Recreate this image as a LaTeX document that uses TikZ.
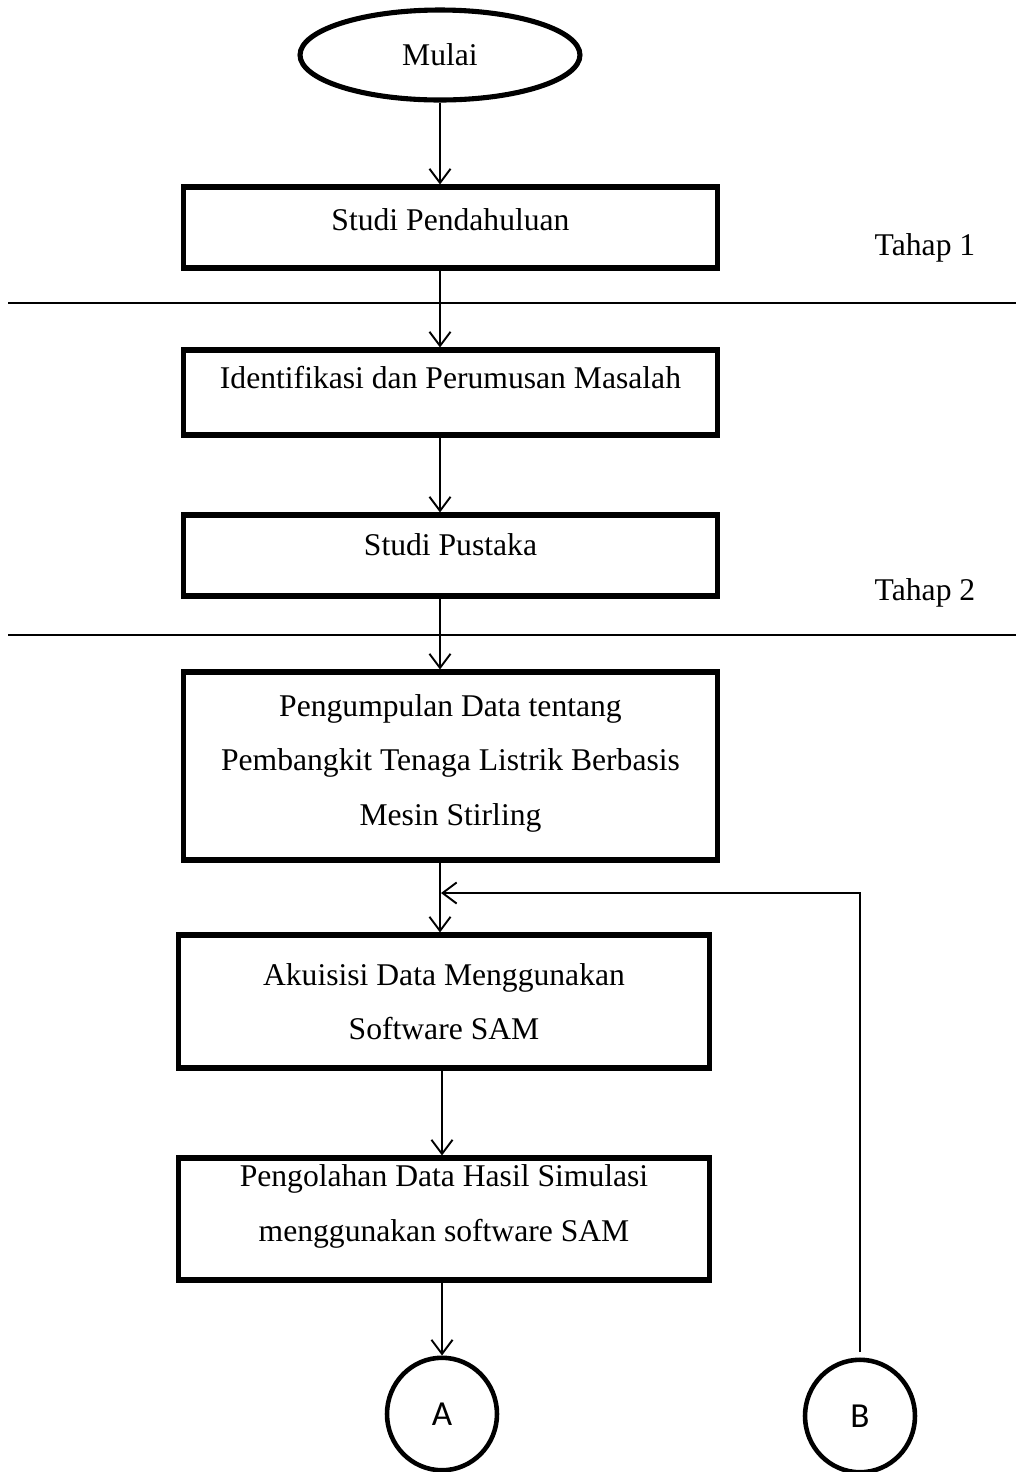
\documentclass[tikz,border=0pt]{standalone}
\usepackage{fontspec}
\setmainfont{Liberation Serif}
\newfontfamily\calibrifont{Carlito}
\usetikzlibrary{arrows.meta,shapes.geometric}

\begin{document}
\begin{tikzpicture}[x=0.02cm,y=-0.02cm,
    box/.style={rectangle,draw,line width=2.9pt,minimum width=10.7cm,align=center,font=\fontsize{18}{31}\selectfont},
    lift/.style={text depth=#1},
    arr/.style={-{Straight Barb[length=8pt,width=12pt]},line width=1.1pt},
    conn/.style={ellipse,draw,line width=2.6pt,minimum width=2.2cm,minimum height=2.25cm,font=\calibrifont\fontsize{20}{24}\selectfont},
    tahap/.style={font=\fontsize{18}{22}\selectfont}]
    \useasboundingbox (0,0) rectangle (1016,1472);
    \node [ellipse,draw,line width=2.9pt,minimum width=5.6cm,minimum height=1.8cm,font=\fontsize{18}{22}\selectfont] (mulai) at (440,55) {Mulai};
    \node [box,lift=9.5pt,minimum height=1.62cm] (studi) at (450.5,227.5) {Studi Pendahuluan};
    \node [box,lift=17pt,minimum height=1.7cm] (ident) at (450.5,392.5) {Identifikasi dan Perumusan Masalah};
    \node [box,lift=12pt,minimum height=1.62cm] (pustaka) at (450.5,555.5) {Studi Pustaka};
    \node [box,lift=7pt,minimum height=3.76cm] (kumpul) at (450.5,766) {Pengumpulan Data tentang\\Pembangkit Tenaga Listrik Berbasis\\Mesin Stirling};
    \node [box,minimum width=10.64cm,minimum height=2.66cm] (akuisisi) at (444,1001.5) {Akuisisi Data Menggunakan\\Software SAM};
    \node [box,lift=18pt,minimum width=10.64cm,minimum height=2.44cm] (olah) at (444,1219) {Pengolahan Data Hasil Simulasi\\menggunakan software SAM};
    \node [conn] (A) at (442,1414) {A};
    \node [conn] (B) at (860,1416) {B};
    \node [tahap] (tahap1) at (925,248) {Tahap 1};
    \node [tahap] (tahap2) at (925,593) {Tahap 2};
    % garis batas tahap
    \draw [line width=1.1pt] (8,303) -- (1016,303);
    \draw [line width=1.1pt] (8,635) -- (1016,635);
    % alur utama
    \draw [arr] (mulai.south) -- (mulai.south |- studi.north);
    \draw [arr] (studi.south -| mulai.south) -- (ident.north -| mulai.south);
    \draw [arr] (ident.south -| mulai.south) -- (pustaka.north -| mulai.south);
    \draw [arr] (pustaka.south -| mulai.south) -- (kumpul.north -| mulai.south);
    \draw [arr] (kumpul.south -| mulai.south) -- (akuisisi.north -| mulai.south);
    \draw [arr] (akuisisi.south -| A.north) -- (olah.north -| A.north);
    \draw [arr] (olah.south -| A.north) -- (A.north);
    % umpan balik dari B
    \coordinate (balik) at (441,893);
    \draw [arr] ([yshift=3pt]B.north) |- (balik);
\end{tikzpicture}
\end{document}
